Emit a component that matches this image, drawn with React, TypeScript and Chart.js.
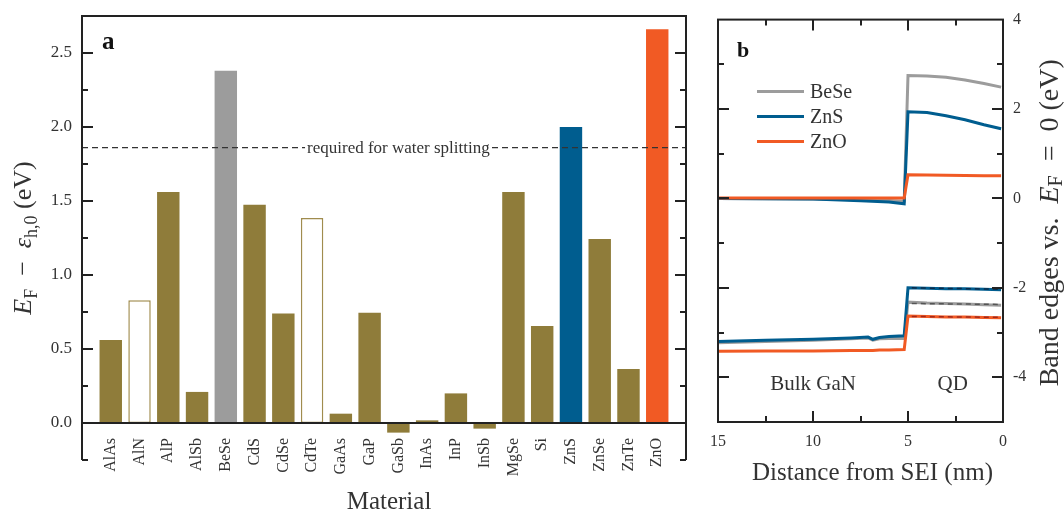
import React, { useEffect, useRef } from 'react';
import { Chart, registerables } from 'chart.js';
Chart.register(...registerables);

const FONT = "'Liberation Serif', 'Times New Roman', serif";
const TEXT = '#333333';
const AXIS = '#222222';
const OLIVE = '#8F7C3A';
const OLIVE_EDGE = '#A08C4E';
const GRAY = '#9C9C9C';
const BLUE = '#005D8F';
const ORANGE = '#F15A24';

// ---------- panel a data ----------
const materials = ['AlAs', 'AlN', 'AlP', 'AlSb', 'BeSe', 'CdS', 'CdSe', 'CdTe', 'GaAs', 'GaP', 'GaSb', 'InAs', 'InP', 'InSb', 'MgSe', 'Si', 'ZnS', 'ZnSe', 'ZnTe', 'ZnO'];
const gapValues = [0.56, 0.83, 1.56, 0.21, 2.38, 1.475, 0.74, 1.385, 0.063, 0.745, -0.065, 0.018, 0.2, -0.038, 1.56, 0.656, 2.0, 1.243, 0.365, 2.66];
const openBars = ['AlN', 'CdTe'];
const highlightColors: Record<string, string> = { BeSe: GRAY, ZnS: BLUE, ZnO: ORANGE };
const waterSplitting = 1.86;
const waterSplittingLabel = 'required for water splitting';
const waterSplittingLabelAt = 10;
const leftMajorTicks = [0, 0.5, 1.0, 1.5, 2.0, 2.5];
const leftTickLabels = ['0.0', '0.5', '1.0', '1.5', '2.0', '2.5'];

// ---------- panel b data ----------
const cbX = [15, 12.5, 10, 7.5, 6, 5.2, 5.0, 4, 3, 2, 1, 0.1];
const beseCB = [0, -0.005, -0.01, -0.03, -0.045, -0.06, 2.75, 2.74, 2.71, 2.65, 2.57, 2.49];
const znsCB = [0, -0.005, -0.015, -0.05, -0.08, -0.12, 1.94, 1.92, 1.85, 1.76, 1.65, 1.56];
const znoCB = [0.01, 0.01, 0.01, 0.01, 0.01, 0.01, 0.53, 0.525, 0.52, 0.515, 0.51, 0.51];

const vbX = [15, 12.5, 10, 8, 7.1, 6.85, 6.5, 6, 5.2, 5.0, 4, 3, 2, 1, 0.1];
const beseVB = [-3.23, -3.2, -3.17, -3.14, -3.12, -3.17, -3.14, -3.13, -3.13, -2.32, -2.34, -2.35, -2.36, -2.38, -2.39];
const znsVB = [-3.2, -3.17, -3.15, -3.12, -3.1, -3.15, -3.11, -3.09, -3.07, -2.0, -2.01, -2.02, -2.02, -2.03, -2.04];
const znoVB = [-3.42, -3.41, -3.41, -3.4, -3.4, -3.4, -3.39, -3.39, -3.38, -2.63, -2.64, -2.65, -2.65, -2.66, -2.67];

const refX = [4.8, 0.1];
const beseRef = [-2.35, -2.37];
const znsRef = [-2.0, -2.03];
const znoRef = [-2.64, -2.66];

const legendNames = ['BeSe', 'ZnS', 'ZnO'];
const legendColors = [GRAY, BLUE, ORANGE];
const rightYMajor = [-4, -2, 0, 2, 4];
const rightXMajor = [15, 10, 5, 0];
const regionLabels = ['Bulk GaN', 'QD'];
const regionLabelX = [10, 2.65];
const regionLabelY = -4.15;

const zip = (xs: number[], ys: number[]) => xs.map((x, i) => ({ x, y: ys[i] }));
const near = (a: number, b: number) => Math.abs(a - b) < 1e-6;

type Part = { t: string; it?: boolean; sub?: boolean };
function drawRich(ctx: CanvasRenderingContext2D, parts: Part[], cx: number, cy: number, size: number, subShift: number) {
  const fontFor = (p: Part) => `${p.it ? 'italic ' : ''}${p.sub ? Math.round(size * 0.7) : size}px ${FONT}`;
  let total = 0;
  const widths = parts.map((p) => {
    ctx.font = fontFor(p);
    const w = ctx.measureText(p.t).width;
    total += w;
    return w;
  });
  ctx.save();
  ctx.translate(cx, cy);
  ctx.rotate(-Math.PI / 2);
  ctx.textAlign = 'left';
  ctx.textBaseline = 'alphabetic';
  ctx.fillStyle = TEXT;
  let xx = -total / 2;
  parts.forEach((p, i) => {
    ctx.font = fontFor(p);
    ctx.fillText(p.t, xx, p.sub ? subShift : 0);
    xx += widths[i];
  });
  ctx.restore();
}

const leftDecor = {
  id: 'leftDecor',
  afterDraw(chart: any) {
    const { ctx, chartArea: a, scales } = chart;
    const x = scales.x;
    const y = scales.y;
    ctx.save();
    // dashed-line label
    const lx = x.getPixelForValue(waterSplittingLabelAt);
    const ly = y.getPixelForValue(waterSplitting);
    ctx.font = `17px ${FONT}`;
    const w = ctx.measureText(waterSplittingLabel).width;
    ctx.fillStyle = '#ffffff';
    ctx.fillRect(lx - w / 2 - 2, ly - 7, w + 4, 14);
    ctx.fillStyle = TEXT;
    ctx.textAlign = 'center';
    ctx.textBaseline = 'middle';
    ctx.fillText(waterSplittingLabel, lx, ly + 1);

    // frame
    ctx.strokeStyle = AXIS;
    ctx.lineWidth = 2;
    ctx.beginPath();
    ctx.moveTo(a.left, a.bottom);
    ctx.lineTo(a.left, a.top);
    ctx.lineTo(a.right, a.top);
    ctx.lineTo(a.right, a.bottom);
    ctx.stroke();
    const y0 = y.getPixelForValue(0);
    ctx.beginPath();
    ctx.moveTo(a.left, y0);
    ctx.lineTo(a.right, y0);
    ctx.stroke();
    // ticks (inward)
    ctx.beginPath();
    y.ticks.forEach((t: any) => {
      if (near(t.value, y.max)) return;
      const py = Math.round(y.getPixelForValue(t.value));
      const len = leftMajorTicks.some((m) => near(m, t.value)) ? 11 : 6;
      ctx.moveTo(a.left, py);
      ctx.lineTo(a.left + len, py);
      ctx.moveTo(a.right, py);
      ctx.lineTo(a.right - len, py);
    });
    ctx.stroke();

    // panel letter
    ctx.fillStyle = '#111';
    ctx.font = `bold 25px ${FONT}`;
    ctx.textAlign = 'left';
    ctx.textBaseline = 'alphabetic';
    ctx.fillText('a', a.left + 20, a.top + 33);

    // x title
    ctx.fillStyle = TEXT;
    ctx.font = `25px ${FONT}`;
    ctx.textAlign = 'center';
    ctx.fillText('Material', (a.left + a.right) / 2 + 5, 509);

    // y title
    drawRich(ctx, [
      { t: 'E', it: true },
      { t: 'F', sub: true },
      { t: '  −  ' },
      { t: 'ε', it: true },
      { t: 'h,0', sub: true },
      { t: ' (eV)' },
    ], 31, (a.top + a.bottom) / 2, 26, 5.5);
    ctx.restore();
  },
};

const rightDecor = {
  id: 'rightDecor',
  afterDraw(chart: any) {
    const { ctx, chartArea: a, scales } = chart;
    const x = scales.x;
    const y = scales.y;
    ctx.save();
    ctx.strokeStyle = AXIS;
    ctx.lineWidth = 2;
    ctx.strokeRect(a.left, a.top, a.right - a.left, a.bottom - a.top);
    ctx.beginPath();
    y.ticks.forEach((t: any) => {
      if (near(t.value, y.max) || near(t.value, y.min)) return;
      const py = Math.round(y.getPixelForValue(t.value));
      const len = rightYMajor.some((m) => near(m, t.value)) ? 11 : 6;
      ctx.moveTo(a.left, py);
      ctx.lineTo(a.left + len, py);
      ctx.moveTo(a.right, py);
      ctx.lineTo(a.right - len, py);
    });
    x.ticks.forEach((t: any) => {
      if (near(t.value, x.max) || near(t.value, x.min)) return;
      const px = Math.round(x.getPixelForValue(t.value));
      const len = rightXMajor.some((m) => near(m, t.value)) ? 11 : 6;
      ctx.moveTo(px, a.top);
      ctx.lineTo(px, a.top + len);
      ctx.moveTo(px, a.bottom);
      ctx.lineTo(px, a.bottom - len);
    });
    ctx.stroke();

    // legend
    legendNames.forEach((name, i) => {
      const ly = a.top + 72 + i * 25;
      ctx.strokeStyle = legendColors[i];
      ctx.lineWidth = 3;
      ctx.beginPath();
      ctx.moveTo(a.left + 39, ly);
      ctx.lineTo(a.left + 86, ly);
      ctx.stroke();
      ctx.fillStyle = TEXT;
      ctx.font = `20px ${FONT}`;
      ctx.textAlign = 'left';
      ctx.textBaseline = 'middle';
      ctx.fillText(name, a.left + 92, ly + 1);
    });

    // region labels
    ctx.fillStyle = TEXT;
    ctx.font = `21px ${FONT}`;
    ctx.textAlign = 'center';
    ctx.textBaseline = 'middle';
    regionLabels.forEach((lab, i) => {
      ctx.fillText(lab, x.getPixelForValue(regionLabelX[i]), y.getPixelForValue(regionLabelY));
    });

    // panel letter
    ctx.fillStyle = '#111';
    ctx.font = `bold 22px ${FONT}`;
    ctx.textAlign = 'left';
    ctx.textBaseline = 'alphabetic';
    ctx.fillText('b', a.left + 19, a.top + 37);

    // x title
    ctx.fillStyle = TEXT;
    ctx.font = `25px ${FONT}`;
    ctx.textAlign = 'center';
    ctx.fillText('Distance from SEI (nm)', (a.left + a.right) / 2 + 12, 480);

    // y title
    drawRich(ctx, [
      { t: 'Band edges vs.  ' },
      { t: 'E', it: true },
      { t: 'F', sub: true },
      { t: '  =  0 (eV)' },
    ], 358, (a.top + a.bottom) / 2 + 2, 28, 4);
    ctx.restore();
  },
};

function leftConfig(): any {
  return {
    type: 'bar',
    data: {
      datasets: [
        {
          type: 'line',
          data: [{ x: -1, y: waterSplitting }, { x: 20, y: waterSplitting }],
          borderColor: '#333',
          borderWidth: 1.3,
          borderDash: [6, 4],
          pointRadius: 0,
          order: 0,
        },
        {
          type: 'bar',
          data: materials.map((m, i) => ({ x: i, y: gapValues[i] })),
          backgroundColor: materials.map((m) => (openBars.includes(m) ? '#ffffff' : highlightColors[m] ?? OLIVE)),
          borderColor: materials.map((m) => (openBars.includes(m) ? OLIVE_EDGE : 'rgba(0,0,0,0)')),
          borderWidth: materials.map((m) => (openBars.includes(m) ? 1.5 : 0)),
          borderSkipped: false,
          barPercentage: 0.78,
          categoryPercentage: 1,
          order: 1,
        },
      ],
    },
    options: {
      responsive: false,
      animation: false,
      events: [],
      layout: { padding: { left: 0, top: 16, right: 14, bottom: 53 } },
      plugins: { legend: { display: false }, tooltip: { enabled: false } },
      scales: {
        x: {
          type: 'linear',
          position: { y: 0 },
          min: -1,
          max: 20,
          offset: false,
          grid: { display: false, drawTicks: false },
          border: { display: false },
          ticks: {
            stepSize: 1,
            maxTicksLimit: 100,
            autoSkip: false,
            minRotation: 90,
            maxRotation: 90,
            padding: 15,
            color: TEXT,
            font: { family: FONT, size: 16 },
            callback: (v: number) => materials[v] ?? '',
          },
          afterFit: (s: any) => {
            s.height = 0;
            s.paddingLeft = 0;
            s.paddingRight = 0;
            s.paddingTop = 0;
            s.paddingBottom = 0;
          },
        },
        y: {
          type: 'linear',
          min: -0.25,
          max: 2.75,
          grid: { display: false, drawTicks: false },
          border: { display: false },
          ticks: {
            stepSize: 0.25,
            maxTicksLimit: 100,
            padding: 10,
            color: TEXT,
            font: { family: FONT, size: 17 },
            callback: (v: number) => {
              const k = leftMajorTicks.findIndex((m) => near(m, v));
              return k >= 0 ? leftTickLabels[k] : '';
            },
          },
          afterFit: (s: any) => {
            s.width = 82;
            s.paddingTop = 0;
            s.paddingBottom = 0;
          },
        },
      },
    },
    plugins: [leftDecor],
  };
}

function lineDs(label: string, xs: number[], ys: number[], color: string, order: number, dashed = false) {
  return {
    label,
    data: zip(xs, ys),
    borderColor: color,
    borderWidth: dashed ? 1.5 : 3,
    borderDash: dashed ? [5, 4] : [],
    pointRadius: 0,
    tension: 0,
    fill: false,
    order,
  };
}

function rightConfig(): any {
  return {
    type: 'line',
    data: {
      datasets: [
        lineDs('BeSe', cbX, beseCB, GRAY, 3),
        lineDs('BeSe VB', vbX, beseVB, GRAY, 3),
        lineDs('ZnS', cbX, znsCB, BLUE, 2),
        lineDs('ZnS VB', vbX, znsVB, BLUE, 2),
        lineDs('ZnO', cbX, znoCB, ORANGE, 1),
        lineDs('ZnO VB', vbX, znoVB, ORANGE, 1),
        lineDs('BeSe ref', refX, beseRef, '#555555', 0, true),
        lineDs('ZnS ref', refX, znsRef, '#0B2A4A', 0, true),
        lineDs('ZnO ref', refX, znoRef, '#A3281A', 0, true),
      ],
    },
    options: {
      responsive: false,
      animation: false,
      events: [],
      layout: { padding: { left: 16, top: 16, right: 0, bottom: 0 } },
      plugins: { legend: { display: false }, tooltip: { enabled: false } },
      scales: {
        x: {
          type: 'linear',
          reverse: true,
          min: 0,
          max: 15,
          grid: { display: false, drawTicks: false },
          border: { display: false },
          ticks: {
            stepSize: 2.5,
            maxTicksLimit: 100,
            autoSkip: false,
            maxRotation: 0,
            padding: 10,
            color: TEXT,
            font: { family: FONT, size: 16 },
            callback: (v: number) => (rightXMajor.some((m) => near(m, v)) ? String(v) : ''),
          },
          afterFit: (s: any) => { s.height = 91; },
        },
        y: {
          type: 'linear',
          position: 'right',
          min: -5,
          max: 4,
          grid: { display: false, drawTicks: false },
          border: { display: false },
          ticks: {
            stepSize: 1,
            maxTicksLimit: 100,
            padding: 10,
            color: TEXT,
            font: { family: FONT, size: 16 },
            callback: (v: number) => (rightYMajor.some((m) => near(m, v)) ? String(v) : ''),
          },
          afterFit: (s: any) => { s.width = 61; },
        },
      },
    },
    plugins: [rightDecor],
  };
}

export default function App() {
  const leftRef = useRef<HTMLCanvasElement>(null);
  const rightRef = useRef<HTMLCanvasElement>(null);
  useEffect(() => {
    const c1 = new Chart(leftRef.current as HTMLCanvasElement, leftConfig());
    const c2 = new Chart(rightRef.current as HTMLCanvasElement, rightConfig());
    return () => {
      c1.destroy();
      c2.destroy();
    };
  }, []);
  return (
    <div style={{ position: 'absolute', left: 0, top: 0, width: 1064, height: 513, background: '#ffffff' }}>
      <canvas ref={leftRef} width={700} height={513} style={{ position: 'absolute', left: 0, top: 0 }} />
      <canvas ref={rightRef} width={364} height={513} style={{ position: 'absolute', left: 700, top: 0 }} />
    </div>
  );
}
